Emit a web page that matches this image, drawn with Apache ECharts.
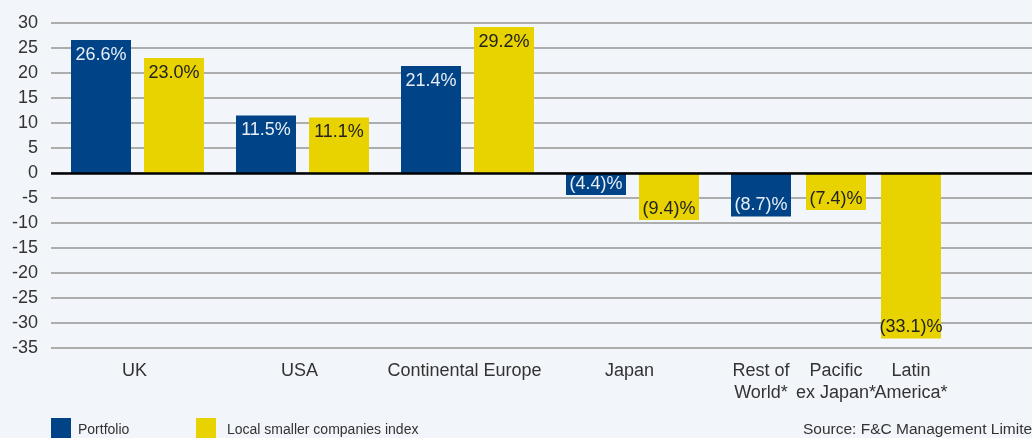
<!DOCTYPE html>
<html>
<head>
<meta charset="utf-8">
<script src="https://cdn.jsdelivr.net/npm/echarts@6/dist/echarts.min.js"></script>
<style>
  html, body { margin: 0; padding: 0; background: #f2f5f9; }
  #chart { width: 1032px; height: 438px; }
</style>
</head>
<body>
<div id="chart"></div>
<script>
const categories = ['UK', 'USA', 'Continental Europe', 'Japan', 'Rest of\nWorld*', 'Pacific\nex Japan*', 'Latin\nAmerica*'];
const portfolio = [26.6, 11.5, 21.4, -4.4, -8.7, null, null];
const localIndex = [23.0, 11.1, 29.2, -9.4, null, -7.4, -33.1];
const yMin = -35, yMax = 30, yStep = 5;

// bar slots along a pixel-like value axis (pairs close together, singles spaced evenly)
const firstX = 50, barStep = 73, groupGap = 92, singleStep = 75;
const portfolioData = [], indexData = [], labelPos = [];
let x = firstX;
categories.forEach((c, i) => {
  const hasP = portfolio[i] !== null, hasI = localIndex[i] !== null;
  if (hasP && hasI) {
    portfolioData.push([x, portfolio[i]]);
    indexData.push([x + barStep, localIndex[i]]);
    labelPos.push(x + barStep / 2 - 3);
    x += barStep + groupGap;
  } else {
    if (hasP) portfolioData.push([x, portfolio[i]]);
    if (hasI) indexData.push([x, localIndex[i]]);
    labelPos.push(x);
    x += singleStep;
  }
});

const fmt = v => v < 0 ? '(' + Math.abs(v).toFixed(1) + ')%' : v.toFixed(1) + '%';
const withLabelPos = arr => arr.map(d => ({
  value: d,
  label: d[1] < 0 ? { position: 'insideBottom', distance: 2 } : { position: 'insideTop', distance: 6 }
}));

// category names split over two axes so that tightly packed names are not hidden
const catAxis = parity => ({
  type: 'value',
  min: 0,
  max: 981,
  position: 'bottom',
  axisLine: { show: false },
  axisTick: { show: false },
  splitLine: { show: false },
  axisLabel: {
    customValues: labelPos.filter((p, i) => i % 2 === parity),
    showMinLabel: true,
    showMaxLabel: true,
    fontSize: 18,
    lineHeight: 22,
    margin: 12,
    color: '#333',
    formatter: v => {
      const i = labelPos.findIndex(p => Math.abs(p - v) < 0.5);
      return i >= 0 ? categories[i] : '';
    }
  }
});

const chart = echarts.init(document.getElementById('chart'));
chart.setOption({
  backgroundColor: '#f2f5f9',
  textStyle: { fontFamily: 'Liberation Sans, Arial, sans-serif' },
  animation: false,
  title: {
    text: 'Source: F&C Management Limited',
    left: 803,
    top: 422,
    padding: 0,
    textStyle: { fontSize: 15.5, fontWeight: 'normal', color: '#333' }
  },
  legend: [
    {
      data: ['Portfolio'],
      left: 51, top: 418, padding: 0,
      itemWidth: 20, itemHeight: 24, itemGap: 0,
      icon: 'rect',
      textStyle: { fontSize: 14, color: '#333', padding: [2, 0, 0, 2] }
    },
    {
      data: ['Local smaller companies index'],
      left: 196, top: 418, padding: 0,
      itemWidth: 20, itemHeight: 24, itemGap: 0,
      icon: 'rect',
      textStyle: { fontSize: 14, color: '#333', padding: [2, 0, 0, 6] }
    }
  ],
  grid: { left: 51, right: 0, top: 23, bottom: 90, containLabel: false },
  xAxis: [catAxis(0), catAxis(1)],
  yAxis: {
    type: 'value',
    min: yMin,
    max: yMax,
    interval: yStep,
    axisLine: { show: false },
    axisTick: { show: false },
    axisLabel: { fontSize: 18, color: '#333', margin: 13 },
    splitLine: { lineStyle: { color: '#adadad', width: 2 } }
  },
  series: [
    {
      name: 'Portfolio',
      type: 'bar',
      xAxisIndex: 0,
      barWidth: 60,
      barGap: '-100%',
      itemStyle: { color: '#004487' },
      label: {
        show: true,
        fontSize: 18,
        color: '#e8eef5',
        formatter: p => fmt(p.value[1])
      },
      data: withLabelPos(portfolioData),
      markLine: {
        silent: true,
        symbol: 'none',
        label: { show: false },
        lineStyle: { color: '#000', width: 2.5, type: 'solid' },
        data: [{ yAxis: 0 }]
      }
    },
    {
      name: 'Local smaller companies index',
      type: 'bar',
      xAxisIndex: 0,
      barWidth: 60,
      barGap: '-100%',
      itemStyle: { color: '#e8d300' },
      label: {
        show: true,
        fontSize: 18,
        color: '#222',
        formatter: p => fmt(p.value[1])
      },
      data: withLabelPos(indexData)
    }
  ]
});
</script>
</body>
</html>
